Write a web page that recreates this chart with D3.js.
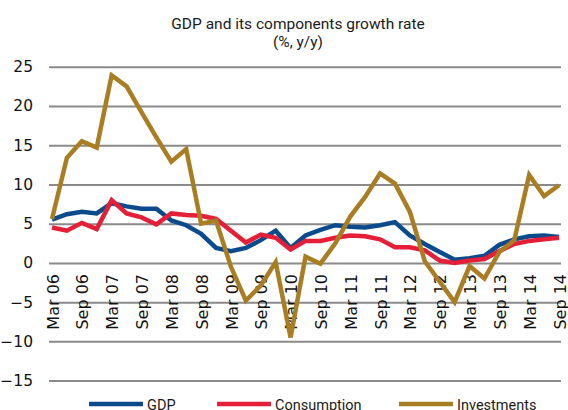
<!DOCTYPE html>
<html>
<head>
<meta charset="utf-8">
<script src="https://cdn.jsdelivr.net/npm/d3@7"></script>
<style>
  body { margin: 0; background: #fff; }
  svg { display: block; }
</style>
</head>
<body>
<div id="chart"></div>
<script>
// quarterly, Mar 06 .. Sep 14
var quarters = [];
var months = ["Mar", "Jun", "Sep", "Dec"];
for (var yr = 6; yr <= 14; yr++) {
  months.forEach(function (m) {
    var q = m + " " + (yr < 10 ? "0" + yr : yr);
    if (quarters.length < 35) quarters.push(q);
  });
}

var gdp = [5.5, 6.2, 6.5, 6.3, 7.6, 7.2, 6.9, 6.9, 5.4, 4.8, 3.7, 1.9, 1.5, 1.9, 2.9, 4.1, 1.9,
  3.5, 4.2, 4.8, 4.6, 4.5, 4.8, 5.2, 3.5, 2.4, 1.4, 0.4, 0.6, 0.9, 2.3, 3.0, 3.4, 3.5, 3.3];
var consumption = [4.5, 4.1, 5.1, 4.3, 8.0, 6.3, 5.8, 4.9, 6.3, 6.1, 6.0, 5.6, 4.1, 2.6, 3.6, 3.2, 1.7,
  2.8, 2.8, 3.2, 3.5, 3.4, 3.0, 2.0, 2.0, 1.6, 0.3, 0.0, 0.3, 0.5, 1.5, 2.4, 2.8, 3.0, 3.2];
var investments = [5.6, 13.4, 15.5, 14.7, 23.9, 22.5, 19.2, 16.0, 12.9, 14.5, 5.0, 5.4, -0.5, -4.8, -2.9, 0.1, -9.5,
  0.8, -0.1, 2.5, 5.9, 8.4, 11.4, 10.1, 6.5, 0.2, -2.4, -5.0, -0.4, -2.0, 1.4, 2.9, 11.2, 8.5, 9.9];

var yTicks = [-15, -10, -5, 0, 5, 10, 15, 20, 25];
var xLabels = quarters.filter(function (d, i) { return i % 2 == 0; });

var series = [
  {name: "GDP", values: gdp, color: "#0b4a8c"},
  {name: "Consumption", values: consumption, color: "#e41f37"},
  {name: "Investments", values: investments, color: "#a97d22"}
];

var width = 568, height = 410;

var svg = d3.select("#chart").append("svg")
  .attr("width", width)
  .attr("height", height);

var x = d3.scalePoint()
  .domain(quarters)
  .range([52, 559]);

var y = d3.scaleLinear()
  .domain([-15, 25])
  .range([380.6, 66.7]);

// title
svg.append("text")
  .attr("x", 298).attr("y", 29)
  .attr("text-anchor", "middle")
  .style("font-family", "Roboto, sans-serif")
  .style("font-size", "15.5px")
  .style("fill", "#1a1a1a")
  .text("GDP and its components growth rate");
svg.append("text")
  .attr("x", 298).attr("y", 47)
  .attr("text-anchor", "middle")
  .style("font-family", "Roboto, sans-serif")
  .style("font-size", "15.5px")
  .style("fill", "#1a1a1a")
  .text("(%, y/y)");

// gridlines + y labels
var yAxis = d3.axisLeft(y)
  .tickValues(yTicks)
  .tickSize(-(561 - 49))
  .tickPadding(16);

var gy = svg.append("g")
  .attr("transform", "translate(49,0)")
  .call(yAxis);
gy.select(".domain").remove();
gy.selectAll(".tick line")
  .attr("stroke", "#8a8a8a")
  .attr("stroke-width", 2);
gy.selectAll(".tick text")
  .style("font-family", "'DejaVu Sans', sans-serif")
  .style("font-size", "15.5px")
  .style("fill", "#111");

// x labels, rotated
svg.append("g").selectAll("text")
  .data(xLabels)
  .enter().append("text")
  .attr("transform", function (d) { return "translate(" + (x(d) + 1) + ",274) rotate(-90)"; })
  .attr("text-anchor", "end")
  .attr("dy", "0.35em")
  .style("font-family", "'DejaVu Sans', sans-serif")
  .style("font-size", "16px")
  .style("fill", "#111")
  .text(function (d) { return d; });

// lines
var line = d3.line()
  .x(function (d, i) { return x(quarters[i]); })
  .y(function (d) { return y(d); });

series.forEach(function (s) {
  svg.append("path")
    .datum(s.values)
    .attr("d", line)
    .attr("fill", "none")
    .attr("stroke", s.color)
    .attr("stroke-width", 4.5)
    .attr("stroke-linejoin", "miter");
});

// legend
var legendX = [89, 217, 399];
var legend = svg.append("g").selectAll("g")
  .data(series)
  .enter().append("g")
  .attr("transform", function (d, i) { return "translate(" + legendX[i] + ",404)"; });
legend.append("line")
  .attr("x1", 0).attr("x2", 54)
  .attr("stroke", function (d) { return d.color; })
  .attr("stroke-width", 4.5);
legend.append("text")
  .attr("x", 58).attr("y", 6)
  .style("font-family", "Roboto, sans-serif")
  .style("font-size", "14.5px")
  .style("fill", "#1a1a1a")
  .text(function (d) { return d.name; });
</script>
</body>
</html>
